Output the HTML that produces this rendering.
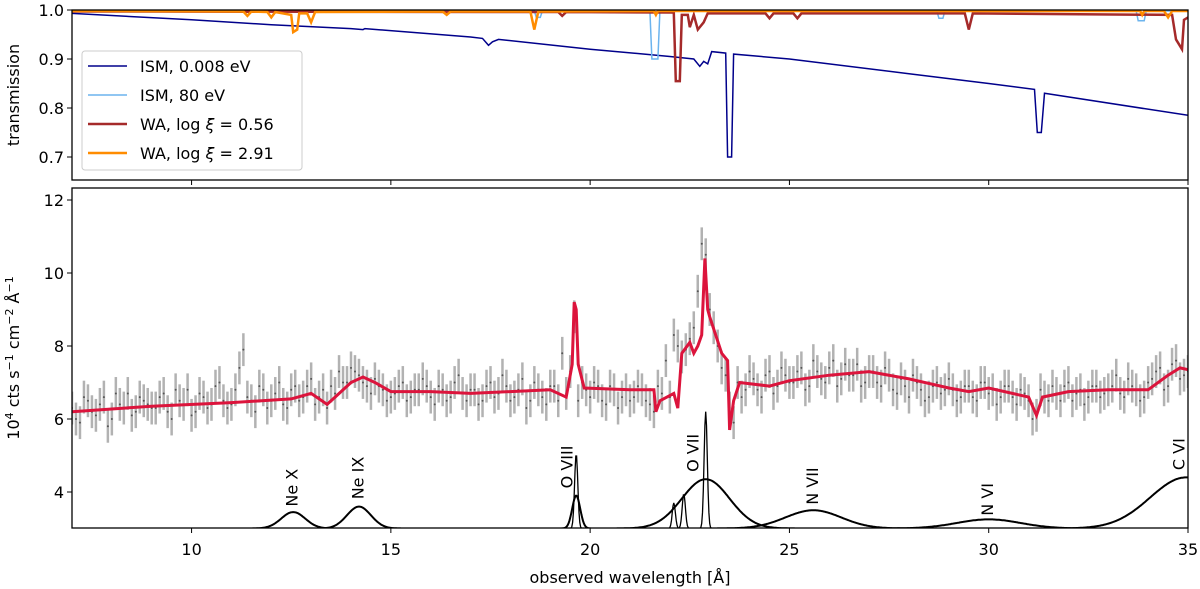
<!DOCTYPE html>
<html><head><meta charset="utf-8"><style>
body{margin:0;background:#fff}
svg{display:block;font-family:"DejaVu Sans","Liberation Sans",sans-serif}
</style></head><body>
<svg id="c" width="1200" height="589"></svg>
<script>
// ---- data ----
const ismLamb=[7,10,12,14,14.3,14.35,17,17.3,17.45,17.55,17.7,20,22,22.6,22.75,22.85,22.95,23.05,23.4,23.45,23.55,23.6,25,28,30,31.15,31.22,31.32,31.4,35];
const ismCold=[0.993,0.98,0.97,0.962,0.96,0.962,0.945,0.942,0.928,0.935,0.94,0.92,0.905,0.9,0.885,0.895,0.89,0.915,0.912,0.70,0.70,0.91,0.9,0.87,0.85,0.838,0.75,0.75,0.83,0.785];
const hotLamb=[7,18.6,18.65,18.75,18.8,21.5,21.55,21.7,21.75,28.7,28.75,28.85,28.9,33.7,33.75,33.9,33.95,35];
const ismHot=[0.998,0.998,0.985,0.985,0.998,0.998,0.9,0.9,0.998,0.998,0.983,0.983,0.998,0.998,0.978,0.978,0.998,0.998];
const wa1Lamb=[7,19.2,19.3,19.4,22.1,22.15,22.25,22.3,22.45,22.5,22.6,22.7,22.85,22.95,24.4,24.5,24.6,25.1,25.2,25.3,29.4,29.5,29.6,34.6,34.7,34.85,34.9,35];
const wa1=[0.997,0.996,0.988,0.996,0.995,0.855,0.855,0.99,0.99,0.965,0.99,0.96,0.975,0.993,0.993,0.983,0.993,0.993,0.983,0.993,0.993,0.96,0.993,0.99,0.94,0.92,0.98,0.985];
const wa2Lamb=[7,11.3,11.4,11.5,11.9,12.0,12.1,12.5,12.55,12.65,12.7,12.9,13.0,13.1,16.3,16.4,16.5,18.5,18.6,18.7,21.6,21.65,21.7,33.8,33.85,33.9,34.4,34.5,34.6,35];
const wa2=[0.998,0.997,0.988,0.997,0.996,0.985,0.996,0.99,0.955,0.96,0.993,0.993,0.975,0.996,0.997,0.99,0.997,0.997,0.96,0.997,0.998,0.99,0.998,0.998,0.99,0.998,0.998,0.985,0.998,0.998];
const modelLamb=[7,9,11,12.5,13,13.4,13.6,14,14.3,14.6,15,16,17,18,19,19.4,19.55,19.6,19.65,19.7,19.85,21,21.6,21.65,21.75,22.1,22.2,22.3,22.5,22.6,22.7,22.8,22.88,22.95,23.0,23.3,23.45,23.5,23.6,23.75,24.5,25,26,27,28,29,29.5,30,31,31.2,31.35,32,33,34,34.5,34.8,35];
const model=[6.2,6.35,6.45,6.55,6.7,6.4,6.6,7.0,7.15,7.0,6.75,6.75,6.7,6.75,6.8,6.6,7.5,9.2,9.0,7.5,6.85,6.8,6.8,6.2,6.5,6.7,6.3,7.8,8.1,7.8,8.0,8.3,10.4,9.0,8.8,7.8,7.6,5.7,6.5,7.0,6.9,7.05,7.2,7.3,7.1,6.85,6.75,6.85,6.6,6.1,6.6,6.75,6.8,6.8,7.2,7.4,7.35];
const obs=[6.3,5.9,6.5,6.1,6.6,6.0,6.4,6.7,6.2,6.5,6.3,
6.6,6.2,6.8,6.4,6.1,6.7,6.3,6.9,6.5,6.4,
7.4,6.6,6.2,6.8,6.5,7.0,6.3,6.9,6.6,7.1,
6.6,6.3,6.7,7.0,7.4,7.2,6.9,7.1,6.8,6.6,
6.9,6.5,6.8,7.1,6.6,6.9,6.5,7.0,6.7,6.8,
6.4,6.9,6.6,7.2,6.5,6.8,6.3,7.0,6.6,6.9,
6.5,6.7,8.8,7.0,6.6,6.9,6.4,6.8,6.6,6.5,
6.9,6.5,6.2,6.7,6.6,8.0,7.9,8.5,10.8,9.0,
8.0,7.2,5.9,6.6,7.3,6.8,7.2,6.7,7.4,7.0,
7.3,6.8,7.6,7.1,7.4,6.9,7.5,7.2,6.9,7.3,
7.0,7.4,6.8,7.1,6.6,7.0,6.5,6.9,6.7,7.1,
6.5,6.9,6.6,7.0,6.7,6.4,6.9,6.6,6.8,6.5,
6.1,6.6,6.9,6.5,7.0,6.7,6.4,6.9,6.6,6.8,
7.2,6.6,6.9,6.5,7.0,7.3,6.8,7.5,7.1,7.3];
const obsB=[6.0,6.6,6.2,6.4,5.8,6.7,6.3,6.1,6.6,6.4,
6.3,6.7,6.0,6.5,6.8,6.2,6.6,6.4,7.0,6.3,
6.8,7.9,6.5,6.9,6.3,6.7,6.4,6.8,6.5,6.9,
6.4,6.8,6.9,7.3,7.0,7.3,7.0,6.7,6.9,6.5,
6.7,7.0,6.6,6.8,6.9,6.4,6.8,6.6,7.2,6.5,
6.8,6.5,7.0,6.7,6.9,6.6,7.1,6.5,6.8,6.4,
6.9,7.8,7.3,6.5,6.8,7.0,6.5,6.9,6.3,6.8,
6.6,6.8,6.4,6.9,7.6,8.3,7.7,8.2,9.5,10.5,
8.5,7.4,6.3,7.0,6.8,7.1,6.6,7.3,6.9,7.2,
7.0,7.4,6.9,7.3,7.0,7.6,7.1,7.2,7.5,7.0,
7.3,6.9,7.2,6.7,6.9,7.2,6.8,6.6,7.0,6.8,
6.8,6.6,6.9,6.5,7.0,6.8,6.6,6.9,6.4,6.7,
6.0,6.8,6.5,6.7,6.9,6.5,6.8,6.6,6.9,6.7,
6.9,6.7,7.1,6.8,6.6,7.1,7.4,6.9,7.6,7.2];
const lineNames=["Ne X","Ne IX","O VIII","O VII","N VII","N VI","C VI"];
const lineCenter=[12.55,14.2,19.65,22.9,25.6,30.0,34.95];
const lineAmp=[0.45,0.6,0.9,1.35,0.5,0.25,1.4];
const lineSigma=[0.3,0.3,0.1,0.6,0.7,0.8,0.9];
const narrowCenter=[19.65,22.1,22.35,22.9];
const narrowAmp=[2.05,0.7,0.95,3.2];
const xTicks=[10,15,20,25,30,35];
const yTopTicks=[0.7,0.8,0.9,1.0];
const yBotTicks=[4,6,8,10,12];

// ---- scales ----
const L=72,R=1188;
const x=v=>L+(v-7)/(35-7)*(R-L);
const yT=v=>10+(1-v)*490;
const yB=v=>492-(v-4)*36.5;
const svg=document.getElementById('c');
const NS='http://www.w3.org/2000/svg';
function mk(t,a,p){const e=document.createElementNS(NS,t);for(const k in a)e.setAttribute(k,a[k]);(p||svg).appendChild(e);return e;}
function poly(xs,ys,sx,sy){return xs.map((v,i)=>(i?'L':'M')+sx(v).toFixed(1)+','+sy(ys[i]).toFixed(1)).join('');}

const defs=mk('defs',{});
const cp1=mk('clipPath',{id:'ct'},defs);mk('rect',{x:L,y:8,width:R-L,height:172},cp1);
const cp2=mk('clipPath',{id:'cb'},defs);mk('rect',{x:L,y:188,width:R-L,height:340},cp2);

const gT=mk('g',{'clip-path':'url(#ct)'});

const sT=[[ismLamb,ismCold,'#00008b',1.5,'ism-cold-line'],[hotLamb,ismHot,'#6cb4ee',1.5,'ism-hot-line'],[wa1Lamb,wa1,'#a52a2a',2.5,'wa-low-line'],[wa2Lamb,wa2,'#ff8c00',2.5,'wa-high-line']];
sT.forEach(s=>{const p=mk('path',{d:poly(s[0],s[1],x,yT),fill:'none',stroke:s[2],'stroke-width':s[3]},gT);

});

const gB=mk('g',{'clip-path':'url(#cb)'});

function drawObs(arr,start){arr.forEach((v,i)=>{const l=start+i*0.2;
const b=mk('line',{x1:x(l),x2:x(l),y1:yB(v-0.45),y2:yB(v+0.45),stroke:'#888','stroke-opacity':0.65,'stroke-width':2.5},gB);


mk('circle',{cx:x(l),cy:yB(v),r:1,fill:'#555'},gB);});}
drawObs(obs,7);drawObs(obsB,7.1);
const mp=mk('path',{d:poly(modelLamb,model,x,yB),fill:'none',stroke:'#dc143c','stroke-width':3},gB);


function gauss(c,a,s){const xs=[],ys=[];for(let l=7;l<=35.001;l+=0.02){xs.push(l);ys.push(3+a*Math.exp(-0.5*((l-c)/s)**2));}return [xs,ys];}
lineCenter.forEach((c,i)=>{const g=gauss(c,lineAmp[i],lineSigma[i]);
const p=mk('path',{d:poly(g[0],g[1],x,yB),fill:'none',stroke:'#000','stroke-width':2},gB);

});
narrowCenter.forEach((c,i)=>{const g=gauss(c,narrowAmp[i],0.04);
const p=mk('path',{d:poly(g[0],g[1],x,yB),fill:'none',stroke:'#000','stroke-width':1.3},gB);

});
const labY=[3.6,3.8,4.1,4.55,3.65,3.35,4.6];
const labX=[12.55,14.2,19.45,22.6,25.6,30.0,34.8];
lineNames.forEach((n,i)=>{const tx=x(labX[i]),ty=yB(labY[i]);
const t=mk('text',{x:tx,y:ty,transform:`rotate(-90 ${tx} ${ty})`,'font-size':16,'text-anchor':'start','dominant-baseline':'middle'});t.textContent=n;

});

const f1=mk('rect',{x:L,y:10,width:R-L,height:170,fill:'none',stroke:'#000','stroke-width':1.3});

const f2=mk('rect',{x:L,y:188,width:R-L,height:340,fill:'none',stroke:'#000','stroke-width':1.3});


xTicks.forEach(v=>{mk('line',{x1:x(v),x2:x(v),y1:180,y2:185,stroke:'#000'});mk('line',{x1:x(v),x2:x(v),y1:528,y2:533,stroke:'#000'});
const t=mk('text',{x:x(v),y:555,'font-size':16,'text-anchor':'middle'});t.textContent=v;
});
yTopTicks.forEach(v=>{mk('line',{x1:L-5,x2:L,y1:yT(v),y2:yT(v),stroke:'#000'});
const t=mk('text',{x:L-8,y:yT(v)+6,'font-size':16,'text-anchor':'end'});t.textContent=v.toFixed(1);
});
yBotTicks.forEach(v=>{mk('line',{x1:L-5,x2:L,y1:yB(v),y2:yB(v),stroke:'#000'});
const t=mk('text',{x:L-8,y:yB(v)+6,'font-size':16,'text-anchor':'end'});t.textContent=v;
});

let t=mk('text',{x:630,y:583,'font-size':16,'text-anchor':'middle'});t.textContent='observed wavelength [Å]';

t=mk('text',{x:19,y:95,'font-size':16,'text-anchor':'middle',transform:'rotate(-90 19 95)'});t.textContent='transmission';

t=mk('text',{x:19,y:358,'font-size':16,'text-anchor':'middle',transform:'rotate(-90 19 358)'});
t.innerHTML='10<tspan dy="-6" font-size="11">4</tspan><tspan dy="6"> cts s</tspan><tspan dy="-6" font-size="11">−1</tspan><tspan dy="6"> cm</tspan><tspan dy="-6" font-size="11">−2</tspan><tspan dy="6"> Å</tspan><tspan dy="-6" font-size="11">−1</tspan>';


const lg=mk('g',{});

mk('rect',{x:82,y:51,width:220,height:119,rx:3,fill:'#fff','fill-opacity':0.85,stroke:'#ccc'},lg);
const legTxt=['ISM, 0.008 eV','ISM, 80 eV','WA, log <tspan font-style="italic">ξ</tspan> = 0.56','WA, log <tspan font-style="italic">ξ</tspan> = 2.91'];
sT.forEach((s,i)=>{const yy=66+i*29;
const e=mk('g',{},lg);


mk('line',{x1:88,x2:127,y1:yy,y2:yy,stroke:s[2],'stroke-width':s[3]},e);
const tx=mk('text',{x:140,y:yy+6,'font-size':16},e);tx.innerHTML=legTxt[i];});
</script>
</body></html>
